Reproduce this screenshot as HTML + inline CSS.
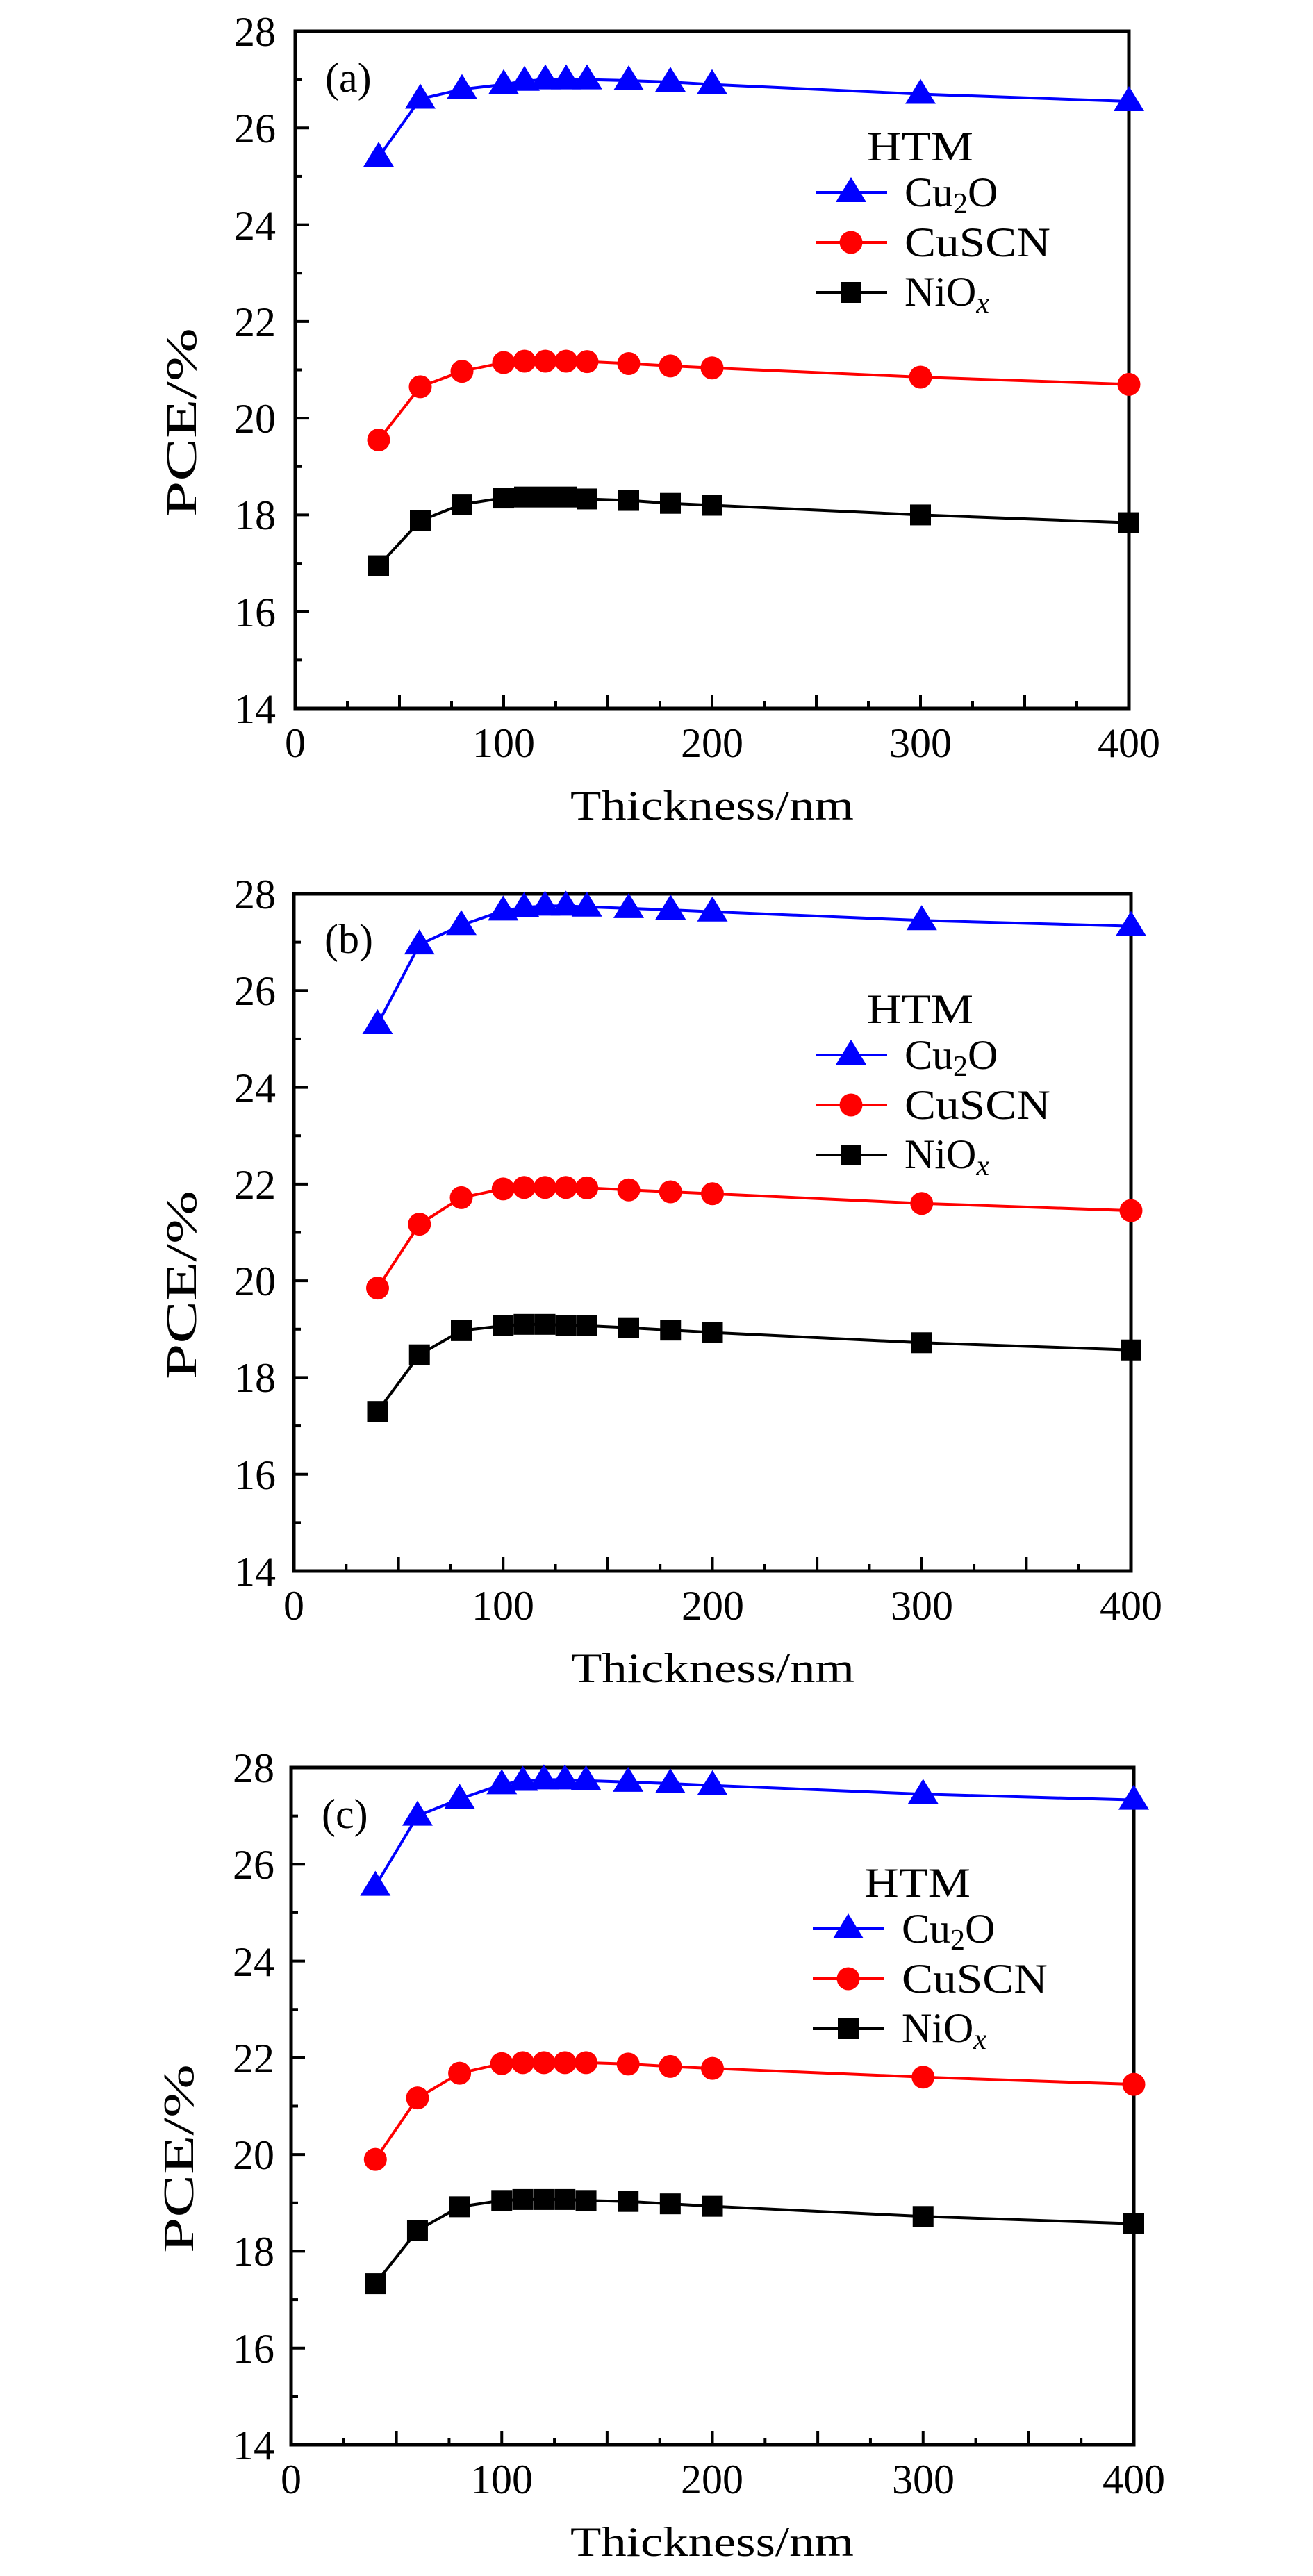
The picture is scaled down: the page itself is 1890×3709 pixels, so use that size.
<!DOCTYPE html>
<html><head><meta charset="utf-8"><style>
html,body{margin:0;padding:0;background:#fff;}
svg{display:block;}
text{font-family:"Liberation Serif","DejaVu Serif",serif;fill:#000;}
</style></head><body>
<svg id="s" width="1890" height="3709" viewBox="0 0 1890 3709" xmlns="http://www.w3.org/2000/svg">
<g font-size="60">
<!-- Panel a -->
<text x="397" y="66" text-anchor="end">28</text>
<text x="397" y="205" text-anchor="end">26</text>
<text x="397" y="345" text-anchor="end">24</text>
<text x="397" y="484" text-anchor="end">22</text>
<text x="397" y="623" text-anchor="end">20</text>
<text x="397" y="762" text-anchor="end">18</text>
<text x="397" y="902" text-anchor="end">16</text>
<text x="397" y="1041" text-anchor="end">14</text>
<text x="425" y="1090" text-anchor="middle">0</text>
<text x="725" y="1090" text-anchor="middle">100</text>
<text x="1025" y="1090" text-anchor="middle">200</text>
<text x="1325" y="1090" text-anchor="middle">300</text>
<text x="1625" y="1090" text-anchor="middle">400</text>
<text x="821" y="1180" textLength="408" lengthAdjust="spacingAndGlyphs">Thickness/nm</text>
<text transform="translate(282,744) rotate(-90)" font-size="62" textLength="272" lengthAdjust="spacingAndGlyphs">PCE/%</text>
<text x="468" y="132">(a)</text>
<text x="1248" y="231" textLength="153" lengthAdjust="spacingAndGlyphs">HTM</text>
<text x="1302" y="297">Cu<tspan font-size="42" dy="10">2</tspan><tspan dy="-10">O</tspan></text>
<text x="1302" y="369" textLength="210" lengthAdjust="spacingAndGlyphs">CuSCN</text>
<text x="1302" y="440">NiO<tspan font-size="42" font-style="italic" dy="10">x</tspan></text>
<!-- Panel b -->
<text x="397" y="1308" text-anchor="end">28</text>
<text x="397" y="1447" text-anchor="end">26</text>
<text x="397" y="1587" text-anchor="end">24</text>
<text x="397" y="1726" text-anchor="end">22</text>
<text x="397" y="1865" text-anchor="end">20</text>
<text x="397" y="2004" text-anchor="end">18</text>
<text x="397" y="2144" text-anchor="end">16</text>
<text x="397" y="2283" text-anchor="end">14</text>
<text x="423" y="2332" text-anchor="middle">0</text>
<text x="724" y="2332" text-anchor="middle">100</text>
<text x="1026" y="2332" text-anchor="middle">200</text>
<text x="1327" y="2332" text-anchor="middle">300</text>
<text x="1628" y="2332" text-anchor="middle">400</text>
<text x="822" y="2422" textLength="408" lengthAdjust="spacingAndGlyphs">Thickness/nm</text>
<text transform="translate(282,1986) rotate(-90)" font-size="62" textLength="272" lengthAdjust="spacingAndGlyphs">PCE/%</text>
<text x="467" y="1372">(b)</text>
<text x="1248" y="1473" textLength="153" lengthAdjust="spacingAndGlyphs">HTM</text>
<text x="1302" y="1539">Cu<tspan font-size="42" dy="10">2</tspan><tspan dy="-10">O</tspan></text>
<text x="1302" y="1611" textLength="210" lengthAdjust="spacingAndGlyphs">CuSCN</text>
<text x="1302" y="1682">NiO<tspan font-size="42" font-style="italic" dy="10">x</tspan></text>
<!-- Panel c -->
<text x="395" y="2566" text-anchor="end">28</text>
<text x="395" y="2705" text-anchor="end">26</text>
<text x="395" y="2845" text-anchor="end">24</text>
<text x="395" y="2984" text-anchor="end">22</text>
<text x="395" y="3123" text-anchor="end">20</text>
<text x="395" y="3262" text-anchor="end">18</text>
<text x="395" y="3402" text-anchor="end">16</text>
<text x="395" y="3541" text-anchor="end">14</text>
<text x="419" y="3590" text-anchor="middle">0</text>
<text x="722" y="3590" text-anchor="middle">100</text>
<text x="1025" y="3590" text-anchor="middle">200</text>
<text x="1329" y="3590" text-anchor="middle">300</text>
<text x="1632" y="3590" text-anchor="middle">400</text>
<text x="821" y="3680" textLength="408" lengthAdjust="spacingAndGlyphs">Thickness/nm</text>
<text transform="translate(278,3244) rotate(-90)" font-size="62" textLength="272" lengthAdjust="spacingAndGlyphs">PCE/%</text>
<text x="463" y="2632">(c)</text>
<text x="1244" y="2731" textLength="153" lengthAdjust="spacingAndGlyphs">HTM</text>
<text x="1298" y="2797">Cu<tspan font-size="42" dy="10">2</tspan><tspan dy="-10">O</tspan></text>
<text x="1298" y="2869" textLength="210" lengthAdjust="spacingAndGlyphs">CuSCN</text>
<text x="1298" y="2940">NiO<tspan font-size="42" font-style="italic" dy="10">x</tspan></text>
</g>
</svg>
<script>
var NS="http://www.w3.org/2000/svg",S=document.getElementById('s');
function el(t,a){var e=document.createElementNS(NS,t);for(var k in a)e.setAttribute(k,a[k]);S.appendChild(e);return e;}
var X=[40,60,80,100,110,120,130,140,160,180,200,300,400];
var P=[
{L:425,R:1625,T:45,B:1020,lx:1174,d:[
[25.4,26.6,26.8,26.9,26.97,27.0,27.0,27.0,26.98,26.95,26.9,26.7,26.55],
[19.55,20.65,20.97,21.15,21.18,21.18,21.18,21.17,21.13,21.08,21.04,20.85,20.7],
[16.95,17.88,18.22,18.35,18.37,18.37,18.37,18.33,18.3,18.24,18.2,18.0,17.84]]},
{L:423,R:1628,T:1287,B:2262,lx:1174,d:[
[25.3,26.95,27.35,27.65,27.72,27.75,27.75,27.73,27.7,27.67,27.63,27.45,27.33],
[19.85,21.17,21.72,21.9,21.93,21.93,21.93,21.92,21.88,21.84,21.8,21.6,21.45],
[17.3,18.47,18.97,19.07,19.1,19.1,19.08,19.07,19.03,18.98,18.93,18.72,18.57]]},
{L:419,R:1632,T:2545,B:3520,lx:1170,d:[
[25.55,27.0,27.35,27.65,27.72,27.75,27.75,27.73,27.7,27.67,27.63,27.45,27.33],
[19.9,21.17,21.68,21.88,21.9,21.9,21.9,21.9,21.87,21.82,21.78,21.6,21.45],
[17.33,18.43,18.92,19.05,19.07,19.07,19.07,19.05,19.03,18.98,18.93,18.72,18.57]]}];
var C=['#0000ff','#ff0000','#000000'];
function mk(i,x,y){
 if(i==0)el('polygon',{points:(x-22)+','+(y+14)+' '+(x+22)+','+(y+14)+' '+x+','+(y-22),fill:C[0]});
 else if(i==1)el('circle',{cx:x,cy:y,r:16.5,fill:C[1]});
 else el('rect',{x:x-15,y:y-15,width:30,height:30,fill:C[2]});
}
P.forEach(function(p){
 var sx=function(v){return p.L+(p.R-p.L)*v/400},sy=function(v){return p.B-(p.B-p.T)*(v-14)/14};
 for(var v=15;v<28;v++){var y=sy(v);el('line',{x1:p.L,x2:p.L+(v%2?10:20),y1:y,y2:y,stroke:'#000','stroke-width':4});}
 for(var t=25;t<400;t+=25){var x=sx(t);el('line',{x1:x,x2:x,y1:p.B,y2:p.B-(t%50?10:20),stroke:'#000','stroke-width':4});}
 el('rect',{x:p.L,y:p.T,width:p.R-p.L,height:p.B-p.T,fill:'none',stroke:'#000','stroke-width':5});
 p.d.forEach(function(s,i){
  el('polyline',{points:X.map(function(x,j){return sx(x)+','+sy(s[j])}).join(' '),fill:'none',stroke:C[i],'stroke-width':4});
  X.forEach(function(x,j){mk(i,sx(x),sy(s[j]));});
  var ly=p.T+232+72*i;
  el('line',{x1:p.lx,x2:p.lx+103,y1:ly,y2:ly,stroke:C[i],'stroke-width':4});
  mk(i,p.lx+51,ly);
 });
});
</script>
</body></html>
